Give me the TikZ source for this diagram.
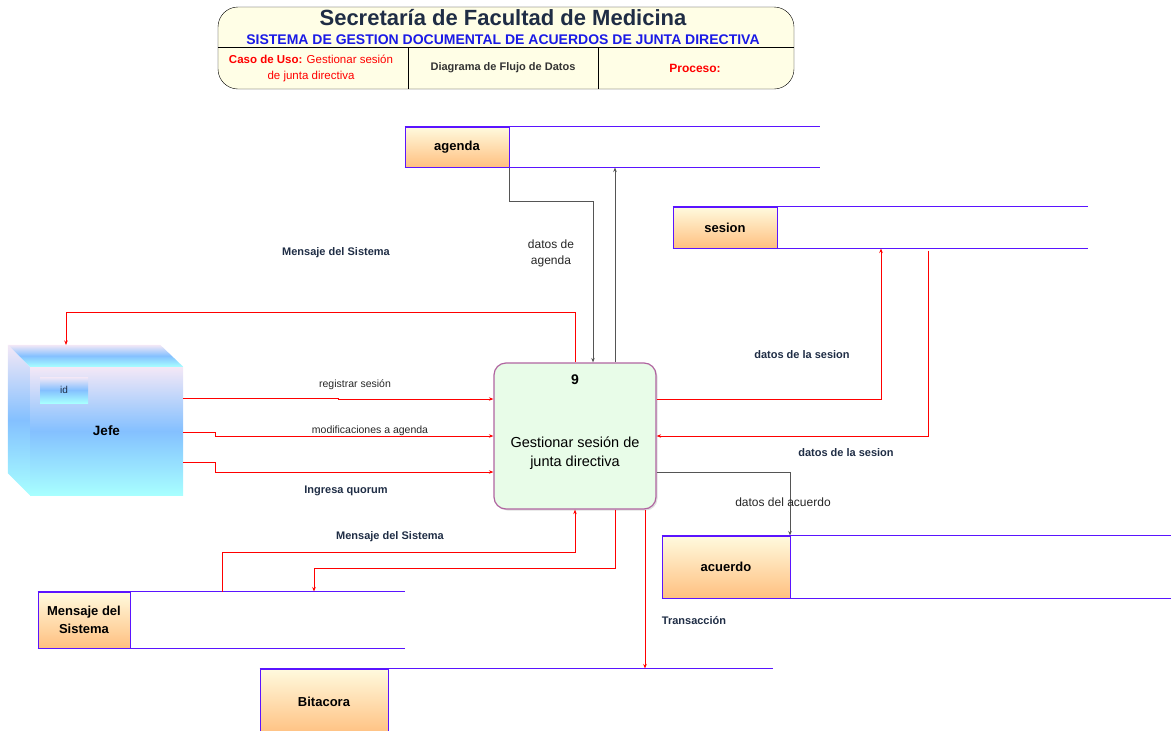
\documentclass[tikz,border=0pt]{standalone}
\usepackage{fontspec}
\setmainfont{Liberation Sans}
\usepackage{tikz}
\usetikzlibrary{arrows.meta, shadows}

\definecolor{navy}{RGB}{31,45,69}
\definecolor{titleblue}{RGB}{26,26,230}
\definecolor{headfill}{RGB}{255,254,230}
\definecolor{storeblue}{RGB}{90,20,255}
\definecolor{storetop}{RGB}{255,250,222}
\definecolor{storebot}{RGB}{255,192,128}
\definecolor{procfill}{RGB}{232,252,232}
\definecolor{procedge}{RGB}{176,100,160}
\definecolor{boxpink}{RGB}{244,232,246}
\definecolor{boxblue}{RGB}{132,192,255}
\definecolor{boxcyan}{RGB}{168,255,255}
\definecolor{flowgray}{RGB}{85,85,85}

\begin{document}
\begin{tikzpicture}[x=1pt, y=-1pt,
    >={Stealth[length=4.5pt,width=3.5pt]},
    flow/.style={red, line width=0.8pt},
    flowg/.style={flowgray, line width=0.7pt},
    almacen/.style={draw=storeblue, line width=1pt, top color=storetop, bottom color=storebot,
        inner sep=0pt, align=center, font=\fontsize{13}{18}\selectfont\bfseries},
    borde/.style={storeblue, line width=1pt},
    cubo/.style={top color=boxpink, bottom color=boxcyan, middle color=boxblue},
    lbl/.style={text=navy, font=\fontsize{11}{13}\selectfont\bfseries},
    txt/.style={text=black!85, align=center, font=\fontsize{10.5}{12}\selectfont}]
    \useasboundingbox (0,0) rectangle (1171,731);

    % Header
    \node[draw, fill=headfill, rounded corners=20pt, minimum width=576pt, minimum height=82pt] (header) at (506,48) {};
    \draw ([yshift=1pt]header.west) -- ([yshift=1pt]header.east);
    \draw ([xshift=-98pt,yshift=42pt]header.south) -- ([xshift=-98pt]header.south);
    \draw ([xshift=92pt,yshift=42pt]header.south) -- ([xshift=92pt]header.south);
    \node[text=navy, font=\fontsize{22}{26}\selectfont\bfseries] (title) at (503,18) {Secretaría de Facultad de Medicina};
    \node[text=titleblue, font=\fontsize{14}{16}\selectfont\bfseries] (subtitle) at (503,40) {SISTEMA DE GESTION DOCUMENTAL DE ACUERDOS DE JUNTA DIRECTIVA};
    \node[text=red, align=center, font=\fontsize{11.5}{16}\selectfont] (casouso) at (311,68) {\textbf{Caso de Uso:} Gestionar sesión\\de junta directiva};
    \node[text=black!80, font=\fontsize{11}{13}\selectfont\bfseries] (tipo) at (503,68) {Diagrama de Flujo de Datos};
    \node[text=red, font=\fontsize{12}{14}\selectfont\bfseries] (proceso) at (695,68) {Proceso:};

    % Data stores
    \node[almacen, minimum width=104pt, minimum height=40pt] (agenda) at (457,147) {agenda};
    \draw[borde] (agenda.north west) -- ++(415,0);
    \draw[borde] (agenda.south west) -- ++(415,0);
    \node[almacen, minimum width=104pt, minimum height=41pt] (sesion) at (725,227.5) {sesion};
    \draw[borde] (sesion.north west) -- ++(415,0);
    \draw[borde] (sesion.south west) -- ++(415,0);
    \node[almacen, minimum width=128pt, minimum height=62pt] (acuerdo) at (726,567) {acuerdo};
    \draw[borde] (acuerdo.north west) -- ++(509,0);
    \draw[borde] (acuerdo.south west) -- ++(509,0);
    \node[almacen, minimum width=92pt, minimum height=56pt] (msgstore) at (84,620) {Mensaje del\\Sistema};
    \draw[borde] (msgstore.north west) -- ++(367,0);
    \draw[borde] (msgstore.south west) -- ++(367,0);
    \node[almacen, minimum width=128pt, minimum height=66pt] (bitacora) at (324,702) {Bitacora};
    \draw[borde] (bitacora.north west) -- ++(513,0);

    % Process
    \node[draw=procedge, line width=1.2pt, fill=procfill, rounded corners=12pt,
        drop shadow={opacity=0.25, shadow xshift=1.5pt, shadow yshift=-1.5pt},
        minimum width=162pt, minimum height=146pt] (proc) at (575,436) {};
    \node[font=\fontsize{14}{16}\selectfont\bfseries] (procnum) at ([yshift=-17pt]proc.north) {9};
    \node[align=center, font=\fontsize{14.5}{19}\selectfont] (proctxt) at ([yshift=-17pt]proc.center) {Gestionar sesión de\\junta directiva};

    % External entity
    \node[cubo, minimum width=153pt, minimum height=128pt, font=\fontsize{13.5}{16}\selectfont\bfseries] (jefe) at (106.5,431) {Jefe};
    \shade[cubo] ([shift={(-22,-22)}]jefe.north west) -- ([shift={(-23,-22)}]jefe.north east)
        -- (jefe.north east) -- (jefe.north west) -- cycle;
    \shade[cubo] ([shift={(-22,-22)}]jefe.north west) -- (jefe.north west)
        -- (jefe.south west) -- ([shift={(-22,-22)}]jefe.south west) -- cycle;
    \node[cubo, minimum width=48pt, minimum height=26pt, text=navy, font=\fontsize{10}{12}\selectfont] (idbox) at (64,390) {id};
    \coordinate (jefein) at (66,345);

    % Flows between process and stores
    \coordinate (ptop) at ([xshift=40pt]proc.north);
    \draw[flow,->] (proc.north) -- ++(0,-50) -| (jefein);
    \draw[flowg,->] (agenda.south east) -- ++(0,34) -| ([xshift=18pt]proc.north);
    \draw[flowg,->] (ptop) -- (ptop |- agenda.south);
    \draw[flow,->] ([yshift=33pt]jefe.east) -- ++(155,0) |- ([yshift=37pt]proc.west);
    \draw[flow,->] ([yshift=-1pt]jefe.east) -- ++(32,0) |- (proc.west);
    \draw[flow,->] ([yshift=-31pt]jefe.east) -- ++(32,0) |- ([yshift=-36pt]proc.west);
    \draw[flow,->] ([yshift=37pt]proc.east) -| ([xshift=156pt]sesion.south);
    \draw[flow,->] ([xshift=203pt,yshift=-2pt]sesion.south) |- (proc.east);
    \draw[flowg,->] ([yshift=-36pt]proc.east) -| ([xshift=64pt]acuerdo.north);
    \draw[flow,->] ([xshift=138pt]msgstore.north) -- ++(0,-39) -| (proc.south);
    \draw[flow,->] ([xshift=40pt]proc.south) -- ++(0,59) -| ([xshift=230pt]msgstore.north);
    \draw[flow,->] ([xshift=70pt]proc.south) -- ([xshift=321pt]bitacora.north);

    % Flow labels
    \node[lbl] (msgarriba) at (336,253) {Mensaje del Sistema};
    \node[txt, font=\fontsize{12}{16}\selectfont] (datagenda) at (551,253) {datos de\\agenda};
    \node[txt] (registrar) at (355,385) {registrar sesión};
    \node[txt] (modif) at (370,431) {modificaciones a agenda};
    \node[lbl] (quorum) at (346,491) {Ingresa quorum};
    \node[lbl] (datsesion) at (802,355) {datos de la sesion};
    \node[lbl] (datsesion2) at (846,453) {datos de la sesion};
    \node[txt, font=\fontsize{12}{14}\selectfont] (datacuerdo) at (783,502) {datos del acuerdo};
    \node[lbl] (msgabajo) at (390,537) {Mensaje del Sistema};
    \node[lbl] (transac) at (694,621) {Transacción};
\end{tikzpicture}
\end{document}
